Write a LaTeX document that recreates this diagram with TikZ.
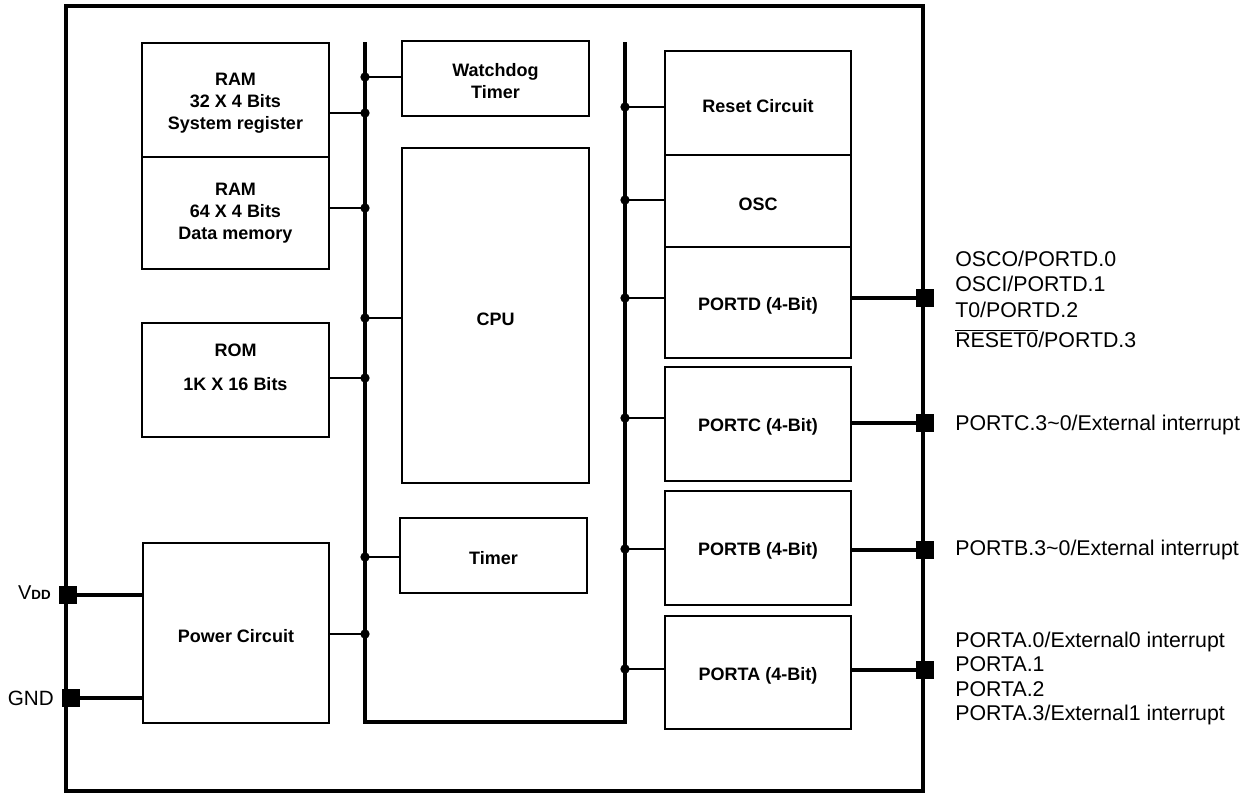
\documentclass[tikz,border=0pt]{standalone}
\usepackage{fontspec}
\setmainfont{Liberation Sans}
\usetikzlibrary{fit}
\begin{document}
\begin{tikzpicture}[x=0.75pt,y=-0.75pt,
  box/.style={draw, line width=1.5pt, inner sep=0pt},
  boxtext/.style={inner sep=0pt, align=center, yshift=-2.2pt,
    font=\bfseries\fontsize{13.5}{16.5}\selectfont},
  chip/.style={line width=2.6pt},
  bus/.style={line width=2.6pt},
  stub/.style={line width=1.5pt},
  pinline/.style={line width=2.4pt},
  dot/.style={circle, fill=black, inner sep=0pt, minimum size=7pt},
  pin/.style={rectangle, fill=black, inner sep=0pt, minimum size=13.5pt},
  lab/.style={anchor=base west, inner sep=0pt, font=\fontsize{16}{18.5}\selectfont},
]
\useasboundingbox (0,0) rectangle (1256,794);

% chip outline
\draw[chip] (66,6) rectangle (923,791);

% buses
\coordinate (lbt) at (365,42);
\coordinate (lbb) at (365,722);
\coordinate (rbb) at (625,722);
\coordinate (rbt) at (625,42);
\draw[bus] (lbt) -- (lbb) -- (rbb) -- (rbt);

% left column
\node[box, fit={(142,43)(329,157)}] (ram1) {};
\node[box, fit={(142,157)(329,269)}] (ram2) {};
\node[box, fit={(142,323)(329,437)}] (rom) {};
\node[box, fit={(143,543)(329,723)}] (pwr) {};
\node[boxtext] (ram1t) at (ram1.center) {RAM\\32 X 4 Bits\\System register};
\node[boxtext, yshift=2pt] (ram2t) at (ram2.center) {RAM\\64 X 4 Bits\\Data memory};
\node[boxtext, yshift=12pt] (romt) at (rom.center) {ROM\\[9pt]1K X 16 Bits};
\node[boxtext] (pwrt) at (pwr.center) {Power Circuit};

% middle column
\node[box, fit={(402,41)(589,116)}] (wdt) {};
\node[box, fit={(402,148)(589,483)}] (cpu) {};
\node[box, fit={(400,518)(587,593)}] (tmr) {};
\node[boxtext] (wdtt) at (wdt.center) {Watchdog\\Timer};
\node[boxtext, yshift=-1pt] (cput) at (cpu.center) {CPU};
\node[boxtext] (tmrt) at (tmr.center) {Timer};

% right column
\node[box, fit={(665,51)(851,155)}] (rst) {};
\node[box, fit={(665,155)(851,247)}] (osc) {};
\node[box, fit={(665,247)(851,358)}] (pd) {};
\node[box, fit={(665,367)(851,481)}] (pc) {};
\node[box, fit={(665,491)(851,605)}] (pb) {};
\node[box, fit={(665,616)(851,729)}] (pa) {};
\node[boxtext] (rstt) at (rst.center) {Reset Circuit};
\node[boxtext] (osct) at (osc.center) {OSC};
\node[boxtext] (pdt) at (pd.center) {PORTD (4-Bit)};
\node[boxtext] (pct) at (pc.center) {PORTC (4-Bit)};
\node[boxtext] (pbt) at (pb.center) {PORTB (4-Bit)};
\node[boxtext] (pat) at (pa.center) {PORTA (4-Bit)};

% left bus junctions
\node[dot] (jw)  at (365,77)  {};
\node[dot] (jr1) at (365,113) {};
\node[dot] (jr2) at (365,208) {};
\node[dot] (jc)  at (365,318) {};
\node[dot] (jro) at (365,378) {};
\node[dot] (jt)  at (365,557) {};
\node[dot] (jp)  at (365,634) {};

\draw[stub] (jw.center) -- (wdt.west |- jw);
\draw[stub] (ram1.east |- jr1) -- (jr1.center);
\draw[stub] (ram2.east |- jr2) -- (jr2.center);
\draw[stub] (jc.center) -- (cpu.west |- jc);
\draw[stub] (rom.east |- jro) -- (jro.center);
\draw[stub] (jt.center) -- (tmr.west |- jt);
\draw[stub] (pwr.east |- jp) -- (jp.center);

% right bus junctions
\node[dot] (kr) at (625,107) {};
\node[dot] (ko) at (625,200) {};
\node[dot] (kd) at (625,298) {};
\node[dot] (kc) at (625,418) {};
\node[dot] (kb) at (625,549) {};
\node[dot] (ka) at (625,669) {};

\draw[stub] (kr.center) -- (rst.west |- kr);
\draw[stub] (ko.center) -- (osc.west |- ko);
\draw[stub] (kd.center) -- (pd.west |- kd);
\draw[stub] (kc.center) -- (pc.west |- kc);
\draw[stub] (kb.center) -- (pb.west |- kb);
\draw[stub] (ka.center) -- (pa.west |- ka);

% pins right
\node[pin] (pind) at (925,298) {};
\node[pin] (pinc) at (925,423) {};
\node[pin] (pinb) at (925,550) {};
\node[pin] (pina) at (925,670) {};
\draw[pinline] (pd.east |- pind) -- (pind.center);
\draw[pinline] (pc.east |- pinc) -- (pinc.center);
\draw[pinline] (pb.east |- pinb) -- (pinb.center);
\draw[pinline] (pa.east |- pina) -- (pina.center);

% pins left
\node[pin] (vdd) at (68,595) {};
\node[pin] (gnd) at (71,698) {};
\draw[pinline] (vdd.center) -- (pwr.west |- vdd);
\draw[pinline] (gnd.center) -- (pwr.west |- gnd);

\node[anchor=base east, inner sep=0pt, font=\fontsize{15}{18}\selectfont] (vddl) at (51,599)
  {V{\bfseries\fontsize{10}{12}\selectfont DD}};
\node[anchor=base east, inner sep=0pt, font=\fontsize{15.5}{18}\selectfont] (gndl) at (54,705) {GND};

% right labels
\node[lab] (d0) at (955,266) {OSCO/PORTD.0};
\node[lab] (d1) at (955,291.5) {OSCI/PORTD.1};
\node[lab] (d2) at (955,317) {T0/PORTD.2};
\node[lab] (d3) at (955,347.5) {$\overline{\hbox{RESET0}}$/PORTD.3};
\node[lab] (cl) at (955,430.5) {PORTC.3\char`~0/External interrupt};
\node[lab] (bl) at (955,555.5) {PORTB.3\char`~0/External interrupt};
\node[lab] (a0) at (955,647) {PORTA.0/External0 interrupt};
\node[lab] (a1) at (955,671.5) {PORTA.1};
\node[lab] (a2) at (955,696) {PORTA.2};
\node[lab] (a3) at (955,720.5) {PORTA.3/External1 interrupt};
\end{tikzpicture}
\end{document}
